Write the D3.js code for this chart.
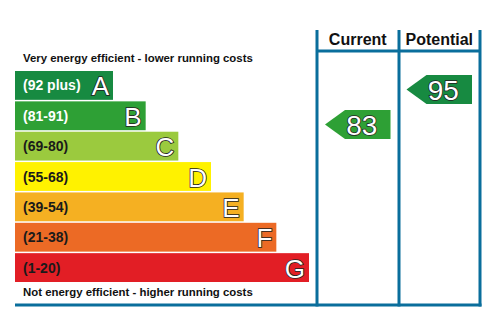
<!DOCTYPE html>
<html><head><meta charset="utf-8">
<script src="https://cdn.jsdelivr.net/npm/d3@7"></script>
<style>body{margin:0;background:#fff}svg{display:block}</style>
</head><body><div id="chart"></div>
<script>
const bands = ["A","B","C","D","E","F","G"];
const ranges = ["(92 plus)","(81-91)","(69-80)","(55-68)","(39-54)","(21-38)","(1-20)"];
const bandMin = [92,81,69,55,39,21,1];
const columns = ["Current","Potential"];
const scores = [83,95];
const topText = "Very energy efficient - lower running costs";
const bottomText = "Not energy efficient - higher running costs";

const bandColors = ["#178a41","#2ea035","#9bca3e","#fff200","#f5b022","#ec6a25","#e21e25"];
const labelColors = ["#fff","#fff","#1a1a1a","#1a1a1a","#1a1a1a","#1a1a1a","#1a1a1a"];
const frame = "#0a6e9c";
const font = "Arial, 'Liberation Sans', sans-serif";

const W = 500, H = 335;
const svg = d3.select("#chart").append("svg").attr("width", W).attr("height", H);

const y = d3.scaleBand().domain(bands).range([71, 282]).paddingInner(0.05);
const widthScale = d3.scaleLinear().domain([0, 6]).range([98, 294]);
const x0 = 15;
const colX = d3.scaleBand().domain(columns).range([317, 399 + 81]);
const colorOf = d3.scaleOrdinal().domain(bands).range(bandColors);
const bandOf = v => bands[bandMin.findIndex(m => v >= m)];
const arrowTop = d3.scaleLinear().domain([95, 83]).range([75, 110]);

// bars
const g = svg.append("g");
bands.forEach((b, i) => {
  const yy = y(b), h = y.bandwidth(), w = widthScale(i);
  g.append("rect").attr("x", x0).attr("y", yy).attr("width", w).attr("height", h).attr("fill", colorOf(b));
  g.append("text").attr("x", x0 + 8).attr("y", yy + h / 2 + 5)
    .attr("font-family", font).attr("font-weight", "bold").attr("font-size", 14)
    .attr("fill", labelColors[i]).text(ranges[i]);
  g.append("text").attr("x", x0 + w - 4).attr("y", yy + h / 2 + 10).attr("text-anchor", "end")
    .attr("font-family", font).attr("font-size", 26).attr("fill", "#fff")
    .attr("stroke", "#222").attr("stroke-width", 1.6).attr("paint-order", "stroke")
    .text(b);
});

// captions
svg.append("text").attr("x", 23).attr("y", 62).attr("font-family", font).attr("font-weight", "bold")
  .attr("font-size", 11.4).attr("fill", "#111").text(topText);
svg.append("text").attr("x", 23).attr("y", 296).attr("font-family", font).attr("font-weight", "bold")
  .attr("font-size", 11.4).attr("fill", "#111").text(bottomText);

// frame
const fr = svg.append("g").attr("stroke", frame).attr("stroke-width", 3);
[317, 399, 480].forEach(xx => fr.append("line").attr("x1", xx).attr("x2", xx).attr("y1", 30).attr("y2", 306.5));
fr.append("line").attr("x1", 317).attr("x2", 480).attr("y1", 51).attr("y2", 51);
fr.append("line").attr("x1", 15).attr("x2", 481.5).attr("y1", 305).attr("y2", 305);

// headers + arrows
columns.forEach((c, i) => {
  const cx = colX(c), cw = colX.bandwidth();
  svg.append("text").attr("x", cx + cw / 2).attr("y", 45).attr("text-anchor", "middle")
    .attr("font-family", font).attr("font-weight", "bold").attr("font-size", 16).attr("fill", "#111").text(c);
  const v = scores[i];
  const left = cx + 8, right = cx + cw - 8, top = arrowTop(v), h = 29, tip = 20;
  svg.append("path")
    .attr("d", `M${left},${top + h / 2}L${left + tip},${top}L${right},${top}L${right},${top + h}L${left + tip},${top + h}Z`)
    .attr("fill", colorOf(bandOf(v)));
  svg.append("text").attr("x", (left + right) / 2 + 4).attr("y", top + h / 2 + 10).attr("text-anchor", "middle")
    .attr("font-family", font).attr("font-size", 28).attr("fill", "#fff")
    .attr("stroke", "#222").attr("stroke-width", 1.5).attr("paint-order", "stroke").text(v);
});
</script></body></html>
